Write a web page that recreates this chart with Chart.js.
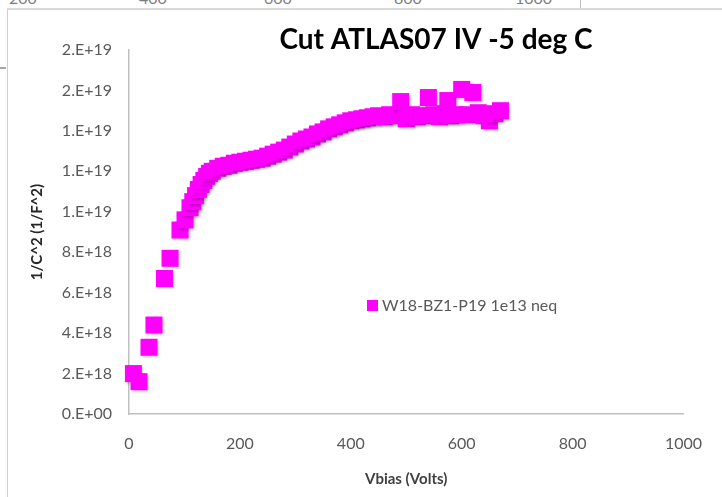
<!DOCTYPE html>
<html>
<head>
<meta charset="utf-8">
<script src="https://cdn.jsdelivr.net/npm/chart.js@4.4.1/dist/chart.umd.min.js"></script>
<style>
    html, body { margin: 0; padding: 0; background: #fff; }
    body { width: 722px; height: 497px; position: relative; overflow: hidden; font-family: Lato, sans-serif; }
    .frame-left { position: absolute; left: 7px; top: 8px; width: 1px; height: 489px; background: #d0d0d0; }
    .frame-top { position: absolute; left: 7px; top: 8px; width: 715px; height: 2px; background: #dadada; }
    .stub { position: absolute; left: 0; top: 67px; width: 6px; height: 2px; background: #a6a6a6; }
    .tick-top { position: absolute; left: 580px; top: 0; width: 1px; height: 8px; background: #bfbfbf; }
    .top-label { position: absolute; top: -12px; font-size: 16px; color: #7f7f7f; }
    #wrap { position: absolute; left: 8px; top: 10px; width: 714px; height: 487px; }
</style>
</head>
<body>
<div class="frame-left"></div>
<div class="frame-top"></div>
<div class="stub"></div>
<div class="tick-top"></div>
<div class="top-label" style="left:9px">200</div>
<div class="top-label" style="left:139px">400</div>
<div class="top-label" style="left:264px">600</div>
<div class="top-label" style="left:394px">800</div>
<div class="top-label" style="left:515px">1000</div>
<div id="wrap"><canvas id="cvChart"></canvas></div>
<script>
const chartTitle = 'Cut ATLAS07 IV -5 deg C';
const xTitle = 'Vbias (Volts)';
const yTitle = '1/C^2 (1/F^2)';
const seriesName = 'W18-BZ1-P19 1e13 neq';

// bias voltage (V)
const vbias = [
    8, 18, 36, 45, 64, 74, 92, 101, 110, 115, 120, 125, 130, 135, 140, 145, 150,
    160, 170, 180, 190, 200, 210, 220, 230, 240, 250, 260, 270, 280, 290, 300,
    310, 320, 330, 340, 350, 360, 370, 380, 390, 400, 410, 420, 430, 440, 450,
    460, 470, 480, 490, 500, 510, 520, 530, 540, 550, 560, 570, 575, 580, 590,
    600, 610, 620, 630, 640, 650, 660, 670
];

// 1/C^2 (1/F^2)
const invC2 = [
    2.0e18, 1.6e18, 3.3e18, 4.4e18, 6.7e18, 7.7e18, 9.1e18, 9.6e18, 1.02e19, 1.05e19,
    1.08e19, 1.11e19, 1.135e19, 1.155e19, 1.175e19, 1.19e19, 1.2e19,
    1.215e19, 1.225e19, 1.23e19, 1.24e19, 1.245e19, 1.25e19, 1.255e19, 1.26e19,
    1.265e19, 1.275e19, 1.285e19, 1.295e19, 1.305e19, 1.32e19, 1.335e19,
    1.35e19, 1.36e19, 1.37e19, 1.385e19, 1.395e19, 1.41e19, 1.42e19, 1.43e19,
    1.44e19, 1.45e19, 1.455e19, 1.46e19, 1.465e19, 1.47e19, 1.475e19,
    1.47e19, 1.48e19, 1.475e19, 1.545e19, 1.46e19, 1.48e19, 1.47e19, 1.475e19,
    1.565e19, 1.48e19, 1.47e19, 1.485e19, 1.55e19, 1.475e19, 1.48e19,
    1.605e19, 1.48e19, 1.59e19, 1.49e19, 1.475e19, 1.45e19, 1.485e19, 1.5e19
];

const xTicks = { min: 0, max: 1000, step: 200 };
const yTicks = { min: 0, max: 1.8e19, step: 2e18 };

// Excel "0.E+00" style
function excelSci(v) {
    const parts = v.toExponential(0).split('e');
    const exp = parseInt(parts[1], 10);
    return parts[0] + '.E' + (exp < 0 ? '-' : '+') + String(Math.abs(exp)).padStart(2, '0');
}

const markerShadow = {
    id: 'markerShadow',
    beforeDatasetsDraw(chart) {
        const c = chart.ctx;
        c.save();
        c.shadowColor = 'rgba(0,0,0,0.3)';
        c.shadowBlur = 3;
        c.shadowOffsetX = 1.5;
        c.shadowOffsetY = 1.5;
    },
    afterDatasetsDraw(chart) {
        chart.ctx.restore();
    }
};

const overlayText = {
    id: 'overlayText',
    afterDraw(chart) {
        const ctx = chart.ctx;
        const ds = chart.data.datasets[0];
        ctx.save();
        ctx.fillStyle = '#000';
        ctx.font = 'bold 28px Lato';
        ctx.textAlign = 'center';
        ctx.textBaseline = 'middle';
        ctx.fillText(chartTitle, 428, 30);

        // legend sits inside the plot, like the excel one
        ctx.fillStyle = ds.backgroundColor;
        ctx.fillRect(359, 290, 11, 11);
        ctx.fillStyle = '#595959';
        ctx.font = '16px Lato';
        ctx.textAlign = 'left';
        ctx.fillText(ds.label, 374, 296);
        ctx.restore();
    }
};

const ctx = document.getElementById('cvChart').getContext('2d');
new Chart(ctx, {
    type: 'scatter',
    data: {
        datasets: [
            {
                label: seriesName,
                data: vbias.map((v, i) => ({ x: v, y: invC2[i] })),
                backgroundColor: '#ff00ff',
                borderWidth: 0,
                pointStyle: 'rect',
                pointRadius: 12,
                clip: false,
            },
        ],
    },
    options: {
        responsive: true,
        maintainAspectRatio: false,
        animation: false,
        events: [],
        layout: { padding: { top: 40, right: 32, left: 0, bottom: 0 } },
        plugins: {
            legend: { display: false },
            tooltip: { enabled: false },
        },
        scales: {
            x: {
                type: 'linear',
                min: xTicks.min,
                max: xTicks.max,
                ticks: {
                    stepSize: xTicks.step,
                    color: '#595959',
                    font: { family: 'Lato', size: 16 },
                    padding: 20,
                    callback: (v) => String(v),
                },
                grid: { drawOnChartArea: false, drawTicks: false },
                border: { color: '#bfbfbf', width: 1.5 },
                title: {
                    display: true,
                    text: xTitle,
                    color: '#404040',
                    font: { family: 'Lato', size: 15, weight: 'bold' },
                    padding: { top: 9, bottom: 9 },
                },
                afterFit: (s) => { s.height = 83; },
            },
            y: {
                min: yTicks.min,
                max: yTicks.max,
                ticks: {
                    stepSize: yTicks.step,
                    color: '#595959',
                    font: { family: 'Lato', size: 16 },
                    padding: 17,
                    callback: (v) => excelSci(v),
                },
                grid: { drawOnChartArea: false, drawTicks: false },
                border: { color: '#bfbfbf', width: 1.5 },
                title: {
                    display: true,
                    text: yTitle,
                    color: '#262626',
                    font: { family: 'Lato', size: 15, weight: 'bold' },
                    padding: { top: 20, bottom: 20 },
                },
                afterFit: (s) => { s.width = 121; },
            },
        },
    },
    plugins: [markerShadow, overlayText],
});
</script>
</body>
</html>
